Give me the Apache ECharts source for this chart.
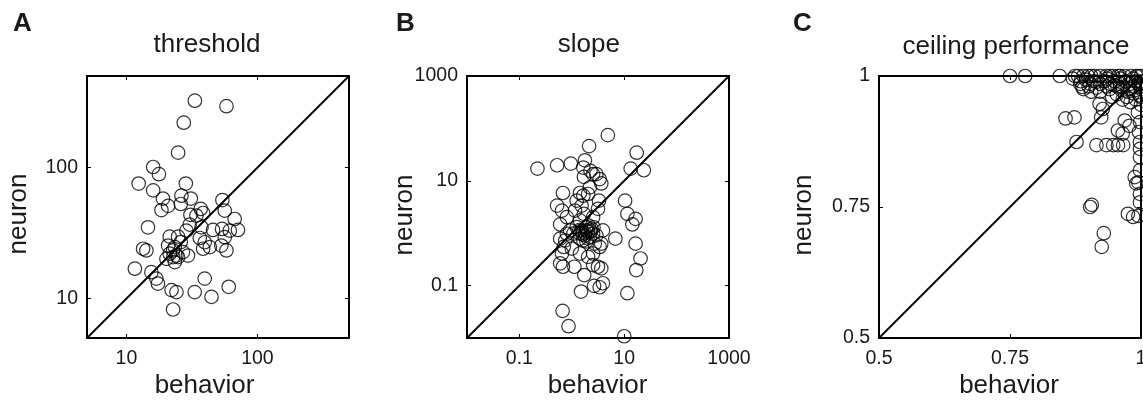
<!DOCTYPE html>
<html><head><meta charset="utf-8">
<script src="https://cdn.jsdelivr.net/npm/echarts@6/dist/echarts.min.js"></script>
<style>html,body{margin:0;padding:0;background:#fff}#c{width:1143px;height:400px}</style>
</head><body><div id="c"></div>
<script>
// ---------- data (behavior, neuron) ----------
const thresholdPoints = [
 [33.3,324],[58,294],[27.4,220],[24.8,130],[16,101],[17.7,89],[12.4,75.5],[28.4,75.5],[16,67],[19,58],
 [26.3,61],[31,58],[20.8,51],[26,52.7],[36.9,48.3],[54,56.5],[56.3,46.9],[34.2,43],[67,40.5],[14.6,35],
 [30.4,36.7],[28.7,33],[37.4,35],[45.8,33.4],[53.7,34],[61.5,33],[71,33.4],[56.3,29.4],[24.8,29.7],[21.4,29.7],
 [20.8,25.4],[13.4,24],[14.2,23.3],[38.5,24],[43.3,24.7],[53,25.4],[58,23.3],[22.7,23.3],[21.4,22],[24.1,21.3],
 [27,22.6],[29.5,21.3],[23.4,19],[20.2,20.1],[11.6,16.9],[15.5,15.9],[16.9,14.2],[17.4,13],[39.6,14.2],[22.1,11.6],
 [24.1,11.2],[33.2,11.2],[44.6,10.3],[60.4,12.3],[22.7,8.25],[23.4,24.7],[24.8,20.7],[22.7,20.7],[39.6,26.9],[36.3,29],
 [18.5,47.4],[30.8,43.6],[38.5,45],[26,27]
];
const slopePoints = [
 [4.87,74.3],[2.14,45.9],[17.3,34.4],[0.221,17.1],[0.524,19.8],[0.957,21.3],[1.78,24.6],[1.66,17.9],[2.27,15.5],[2.55,13.4],
 [1.70,11.9],[3.4,10.8],[3.65,8.9],[13.3,17.1],[23.7,15.9],[0.678,5.85],[1.43,5.85],[1.66,5.2],[2.05,5.6],[1.24,4.18],
 [0.524,3.36],[3.3,4.18],[10.4,4.18],[3.16,2.91],[1.70,2.34],[11.5,2.34],[16.5,1.88],[14.3,1.47],[0.60,1.47],[1.43,1.75],
 [1.24,1.31],[1.91,1.13],[1.07,0.98],[1.43,0.98],[2.55,0.98],[3.93,1.13],[6.78,0.787],[0.60,0.787],[0.70,0.547],[3.65,0.632],
 [0.65,0.41],[16.5,0.632],[20.5,0.329],[1.43,0.41],[0.60,0.265],[0.678,0.229],[1.12,0.229],[1.73,0.159],[2.55,0.246],[3.16,0.229],
 [3.65,0.213],[17,0.198],[2.66,0.0986],[3.93,0.111],[3.4,0.093],[1.5,0.077],[11.5,0.0716],[0.668,0.033],[0.866,0.0168],[10,0.0108],
 [1.54,1.13],[1.78,0.91],[2.05,1.05],[2.21,0.846],[1.66,0.73],[1.91,1.31],[2.37,1.22],[1.43,0.787],[2.94,0.91],[3.4,0.547],
 [2.74,0.632],[0.805,0.977],[0.75,0.73],[0.805,2.02],[0.93,1.13],[2.55,2.02],[1.15,2.7],[1.54,3.36],[2.55,0.41],[2.05,0.354],
 [1.0,0.509],[2.94,13.4],[2.21,7.48],[0.65,2.7],
 [1.8,1.0],[2.0,0.8],[2.3,1.1],[1.6,0.95],[2.1,1.4],[1.9,0.7],[2.6,1.3],[1.4,1.15]
];
const ceilingPoints = [
 [0.75,1],[0.779,1],[0.845,1],[0.874,1],[0.88,1],[0.890,1],[0.899,1],[0.905,1],[0.912,1],[0.922,1],
 [0.934,1],[0.941,1],[0.947,1],[0.956,1],[0.960,1],[0.969,1],[0.981,1],[0.991,1],[1,1],[0.995,1],
 [0.884,0.985],[0.903,0.985],[0.922,0.985],[0.941,0.985],[0.96,0.985],[0.979,0.985],[0.995,0.985],[0.888,0.979],[0.915,0.989],[0.95,0.982],
 [0.922,0.97],[0.954,0.965],[0.973,0.96],[0.985,0.967],[0.997,0.963],[0.963,0.973],[0.989,0.973],[0.979,0.976],[1,0.975],[1,0.99],
 [0.87,0.995],[0.885,0.99],[0.895,0.993],[0.91,0.99],[0.93,0.99],[0.94,0.975],[0.955,0.98],[0.97,0.99],[0.975,0.97],[0.985,0.98],
 [0.99,0.955],[1,0.96],[1,0.945],[0.965,0.955],[0.945,0.96],[0.98,0.95],[0.935,0.995],[0.96,0.995],[0.985,0.995],[0.9,0.98],
 [0.921,0.947],[0.927,0.937],[0.924,0.921],[0.994,0.931],[0.998,0.912],[0.996,0.893],[0.998,0.874],[0.969,0.915],[0.978,0.905],[0.965,0.89],
 [0.856,0.919],[0.873,0.921],[0.877,0.874],[0.915,0.868],[0.934,0.868],[0.947,0.868],[0.956,0.868],[0.966,0.868],[0.956,0.896],[0.998,0.861],
 [0.988,0.807],[0.995,0.797],[0.998,0.775],[0.998,0.759],[0.975,0.737],[0.985,0.731],[0.995,0.733],[0.998,0.845],[0.998,0.82],[0.991,0.795],
 [0.906,0.754],[0.903,0.750],[0.929,0.70],[0.925,0.674],
 [0.89,0.975],[0.905,0.97],[0.915,0.978],[0.935,0.98],[0.95,0.99],[0.965,0.978],[0.99,0.99],[1,0.98]
];

// ---------- axes ----------
const thresholdRange = [5, 500];
const slopeRange = [0.01, 1000];
const ceilingRange = [0.5, 1];
const thresholdTicks = [10, 100];
const slopeTicks = [0.1, 10, 1000];
const ceilingTicks = [0.5, 0.75, 1];

// ---------- texts ----------
const panelLetters = ['A', 'B', 'C'];
const panelTitles = ['threshold', 'slope', 'ceiling performance'];
const xName = 'behavior';
const yName = 'neuron';

const FONT = '"Liberation Sans", Arial, Helvetica, sans-serif';
const INK = '#1a1a1a';

const panels = [
  {pts: thresholdPoints, range: thresholdRange, ticks: thresholdTicks, type: 'log',
   grid: {left: 87, top: 76, width: 262, height: 262},
   letter: [13, 24], title: [207, 45], xname: [204.5, 386], yname: [18.5, 214]},
  {pts: slopePoints, range: slopeRange, ticks: slopeTicks, type: 'log',
   grid: {left: 467, top: 76, width: 262, height: 262},
   letter: [396, 24], title: [588.8, 45], xname: [597.5, 386], yname: [404.5, 215]},
  {pts: ceilingPoints, range: ceilingRange, ticks: ceilingTicks, type: 'value',
   grid: {left: 879, top: 76, width: 262, height: 262},
   letter: [793, 24], title: [1016, 47], xname: [1009, 386], yname: [803.5, 215]}
];

function makeFormatter(ticks, isLog) {
  return function (v) {
    for (const t of ticks) {
      const d = isLog ? Math.abs(Math.log10(v) - Math.log10(t)) : Math.abs(v - t);
      if (d < 1e-6) return String(t);
    }
    return '';
  };
}

function makeAxis(p, gi, pos, main) {
  const isLog = p.type === 'log';
  const ax = {
    type: p.type, gridIndex: gi, position: pos,
    min: p.range[0], max: p.range[1],
    axisLine: {show: true, onZero: false, lineStyle: {color: '#000', width: 2}},
    axisTick: {show: true, inside: true, length: 4, customValues: p.ticks,
               lineStyle: {color: '#000', width: 1}},
    axisLabel: {show: main, customValues: p.ticks, formatter: makeFormatter(p.ticks, isLog),
                fontSize: 19.5, fontFamily: FONT, color: INK, hideOverlap: false,
                margin: (pos === 'bottom' ? 11 : 9)},
    splitLine: {show: false}, minorTick: {show: false}, minorSplitLine: {show: false}
  };
  if (isLog) ax.logBase = 10; else ax.interval = 0.25;
  return ax;
}

const xAxes = [], yAxes = [], series = [], grids = [], graphics = [];
panels.forEach((p, i) => {
  grids.push(Object.assign({containLabel: false, outerBoundsMode: 'none'}, p.grid));
  const xi = xAxes.length, yi = yAxes.length;
  xAxes.push(makeAxis(p, i, 'bottom', true), makeAxis(p, i, 'top', false));
  yAxes.push(makeAxis(p, i, 'left', true), makeAxis(p, i, 'right', false));
  series.push({
    type: 'line', xAxisIndex: xi, yAxisIndex: yi, silent: true, symbol: 'none',
    data: [[p.range[0], p.range[0]], [p.range[1], p.range[1]]],
    lineStyle: {color: '#000', width: 2}, z: 2
  });
  series.push({
    type: 'scatter', xAxisIndex: xi, yAxisIndex: yi, clip: false, silent: true,
    symbol: 'circle', symbolSize: 13.5, data: p.pts,
    itemStyle: {color: 'rgba(0,0,0,0)', borderColor: '#000', borderWidth: 1.2}, z: 3
  });
  graphics.push({type: 'text', x: p.letter[0], y: p.letter[1],
    style: {text: panelLetters[i], font: 'bold 26px ' + FONT, fill: INK,
            textAlign: 'left', textVerticalAlign: 'middle', align: 'left', verticalAlign: 'middle'}});
  graphics.push({type: 'text', x: p.title[0], y: p.title[1],
    style: {text: panelTitles[i], font: '26px ' + FONT, fill: INK,
            textAlign: 'center', textVerticalAlign: 'middle', align: 'center', verticalAlign: 'middle'}});
  graphics.push({type: 'text', x: p.xname[0], y: p.xname[1],
    style: {text: xName, font: '26px ' + FONT, fill: INK,
            textAlign: 'center', textVerticalAlign: 'middle', align: 'center', verticalAlign: 'middle'}});
  graphics.push({type: 'text', x: p.yname[0], y: p.yname[1], rotation: Math.PI / 2,
    style: {text: yName, font: '26px ' + FONT, fill: INK,
            textAlign: 'center', textVerticalAlign: 'middle', align: 'center', verticalAlign: 'middle'}});
});

const chart = echarts.init(document.getElementById('c'), null, {renderer: 'canvas'});
chart.setOption({
  animation: false,
  backgroundColor: '#fff',
  grid: grids, xAxis: xAxes, yAxis: yAxes, series: series, graphic: graphics
});
</script></body></html>
